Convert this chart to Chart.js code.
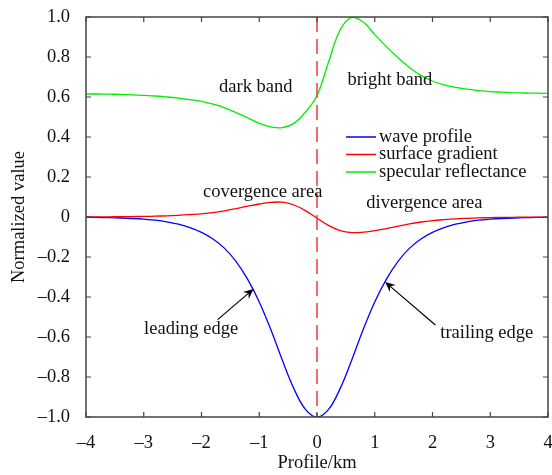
<!DOCTYPE html>
<html lang="en">
<head>
  <meta charset="UTF-8">
  <title>Internal wave profile</title>
  <script src="https://cdn.jsdelivr.net/npm/chart.js"></script>
  <style>
    body { margin: 0; background: #ffffff; }
    #wrap { width: 552px; height: 475px; }
  </style>
</head>
<body>
  <div id="wrap"><canvas id="mainChart"></canvas></div>
  <script>
    // profile distance (km)
    const profileKm = [-4, -3.8, -3.6, -3.4, -3.2, -3, -2.8, -2.6, -2.4, -2.2, -2, -1.8, -1.6, -1.4, -1.2, -1, -0.8, -0.6, -0.4, -0.2,
      0, 0.2, 0.4, 0.6, 0.8, 1, 1.2, 1.4, 1.6, 1.8, 2, 2.2, 2.4, 2.6, 2.8, 3, 3.2, 3.4, 3.6, 3.8, 4];
    const waveProfile = [-0.0015, -0.0023, -0.0034, -0.005, -0.0075, -0.011, -0.016, -0.024, -0.036, -0.053, -0.077, -0.110, -0.157, -0.223, -0.312, -0.425, -0.563, -0.716, -0.858, -0.962,
      -1.0, -0.962, -0.858, -0.716, -0.563, -0.425, -0.312, -0.223, -0.157, -0.110, -0.077, -0.053, -0.036, -0.024, -0.016, -0.011, -0.0075, -0.005, -0.0034, -0.0023, -0.0015];
    const surfaceGradient = [0.0005, 0.0007, 0.001, 0.0014, 0.002, 0.003, 0.0043, 0.006, 0.0085, 0.012, 0.016, 0.022, 0.031, 0.042, 0.054, 0.065, 0.073, 0.074, 0.060, 0.032,
      -0.006, -0.042, -0.068, -0.078, -0.076, -0.068, -0.058, -0.046, -0.034, -0.025, -0.018, -0.013, -0.009, -0.0065, -0.0045, -0.003, -0.002, -0.0015, -0.001, -0.0007, -0.0005];
    const specularReflectance = [0.615, 0.615, 0.614, 0.613, 0.611, 0.608, 0.605, 0.600, 0.594, 0.587, 0.578, 0.564, 0.546, 0.522, 0.496, 0.468, 0.451, 0.447, 0.468, 0.525,
      0.608, 0.775, 0.935, 0.998, 0.975, 0.912, 0.852, 0.797, 0.748, 0.708, 0.680, 0.661, 0.648, 0.639, 0.632, 0.627, 0.624, 0.621, 0.620, 0.619, 0.618];
    const seriesNames = ['wave profile', 'surface gradient', 'specular reflectance'];
    const seriesColors = ['#0000ff', '#ff0000', '#00ee00'];

    const FONT = "'Liberation Serif', 'Times New Roman', serif";
    const FSIZE = 18.5;

    const toPoints = ys => profileKm.map((x, i) => ({ x: x, y: ys[i] }));
    const dash = '\u2013';

    // text notes in data coordinates
    const notes = [
      { text: 'dark band', x: -1.06, y: 0.648 },
      { text: 'bright band', x: 1.26, y: 0.683 },
      { text: 'covergence area', x: -0.94, y: 0.125 },
      { text: 'divergence area', x: 1.86, y: 0.067 },
      { text: 'leading edge', x: -2.18, y: -0.563 },
      { text: 'trailing edge', x: 2.94, y: -0.583 }
    ];
    const arrows = [
      { from: [-1.72, -0.513], to: [-1.10, -0.36] },
      { from: [2.05, -0.54], to: [1.18, -0.325] }
    ];

    // frame, inward ticks, notes, arrows and legend
    const decor = {
      id: 'decor',
      afterDatasetsDraw(chart) {
        const ctx = chart.ctx;
        const a = chart.chartArea;
        const sx = chart.scales.x, sy = chart.scales.y;
        ctx.save();
        ctx.strokeStyle = '#444444';
        ctx.lineWidth = 1.5;
        ctx.strokeRect(a.left, a.top, a.right - a.left, a.bottom - a.top);
        ctx.lineWidth = 1.2;
        ctx.beginPath();
        sx.ticks.forEach(t => {
          const px = sx.getPixelForValue(t.value);
          ctx.moveTo(px, a.bottom); ctx.lineTo(px, a.bottom - 5);
          ctx.moveTo(px, a.top); ctx.lineTo(px, a.top + 5);
        });
        sy.ticks.forEach(t => {
          const py = sy.getPixelForValue(t.value);
          ctx.moveTo(a.left, py); ctx.lineTo(a.left + 5, py);
          ctx.moveTo(a.right, py); ctx.lineTo(a.right - 5, py);
        });
        ctx.stroke();

        ctx.fillStyle = '#111111';
        ctx.font = FSIZE + 'px ' + FONT;
        ctx.textAlign = 'center';
        ctx.textBaseline = 'middle';
        notes.forEach(n => ctx.fillText(n.text, sx.getPixelForValue(n.x), sy.getPixelForValue(n.y)));

        ctx.strokeStyle = '#000000';
        ctx.fillStyle = '#000000';
        ctx.lineWidth = 1.2;
        arrows.forEach(ar => {
          const x0 = sx.getPixelForValue(ar.from[0]), y0 = sy.getPixelForValue(ar.from[1]);
          const x1 = sx.getPixelForValue(ar.to[0]), y1 = sy.getPixelForValue(ar.to[1]);
          const ang = Math.atan2(y1 - y0, x1 - x0);
          ctx.beginPath();
          ctx.moveTo(x0, y0); ctx.lineTo(x1 - 6 * Math.cos(ang), y1 - 6 * Math.sin(ang));
          ctx.stroke();
          const L = 11, W = 0.42;
          ctx.beginPath();
          ctx.moveTo(x1, y1);
          ctx.lineTo(x1 - L * Math.cos(ang - W), y1 - L * Math.sin(ang - W));
          ctx.lineTo(x1 - 0.6 * L * Math.cos(ang), y1 - 0.6 * L * Math.sin(ang));
          ctx.lineTo(x1 - L * Math.cos(ang + W), y1 - L * Math.sin(ang + W));
          ctx.closePath();
          ctx.fill();
        });

        // legend
        ctx.textAlign = 'left';
        seriesNames.forEach((name, i) => {
          const ly = a.top + 120 + i * 17.5;
          ctx.strokeStyle = seriesColors[i];
          ctx.lineWidth = 1.5;
          ctx.beginPath();
          ctx.moveTo(a.left + 260, ly); ctx.lineTo(a.left + 290, ly);
          ctx.stroke();
          ctx.fillStyle = '#111111';
          ctx.fillText(name, a.left + 293, ly);
        });
        ctx.restore();
      }
    };

    const ctx = document.getElementById('mainChart').getContext('2d');
    new Chart(ctx, {
      type: 'line',
      data: {
        datasets: [
          {
            label: 'centre',
            data: [{ x: 0, y: 1 }, { x: 0, y: -1 }],
            borderColor: '#f03a3a',
            borderWidth: 1.5,
            borderDash: [15, 7],
            pointRadius: 0
          },
          {
            label: seriesNames[2],
            data: toPoints(specularReflectance),
            borderColor: seriesColors[2],
            borderWidth: 1.3,
            pointRadius: 0,
            tension: 0.4
          },
          {
            label: seriesNames[1],
            data: toPoints(surfaceGradient),
            borderColor: seriesColors[1],
            borderWidth: 1.3,
            pointRadius: 0,
            tension: 0.4
          },
          {
            label: seriesNames[0],
            data: toPoints(waveProfile),
            borderColor: seriesColors[0],
            borderWidth: 1.3,
            pointRadius: 0,
            tension: 0.4
          }
        ]
      },
      options: {
        responsive: true,
        maintainAspectRatio: false,
        animation: false,
        layout: { autoPadding: false, padding: { top: 17, right: 4, left: 0, bottom: 0 } },
        plugins: {
          legend: { display: false },
          tooltip: { enabled: false }
        },
        scales: {
          x: {
            type: 'linear',
            min: -4, max: 4,
            grid: { display: false },
            border: { display: false },
            ticks: {
              stepSize: 1,
              padding: 7,
              color: '#111111',
              font: { family: FONT, size: FSIZE },
              callback: v => (v < 0 ? dash : '') + Math.abs(v)
            },
            title: {
              display: true,
              text: 'Profile/km',
              color: '#111111',
              font: { family: FONT, size: FSIZE },
              padding: { top: 0, bottom: 1 }
            },
            afterFit: s => { s.height = 58; s.paddingLeft = 0; s.paddingRight = 0; }
          },
          y: {
            min: -1, max: 1,
            grid: { display: false },
            border: { display: false },
            ticks: {
              stepSize: 0.2,
              padding: 8,
              color: '#111111',
              font: { family: FONT, size: FSIZE },
              callback: v => Math.abs(v) < 1e-9 ? '0' : (v < 0 ? dash : '') + Math.abs(v).toFixed(1)
            },
            title: {
              display: true,
              text: 'Normalized value',
              color: '#111111',
              font: { family: FONT, size: FSIZE },
              padding: { top: 8, bottom: 0 }
            },
            afterFit: s => { s.width = 86; s.paddingTop = 0; s.paddingBottom = 0; }
          }
        }
      },
      plugins: [decor]
    });
  </script>
</body>
</html>
